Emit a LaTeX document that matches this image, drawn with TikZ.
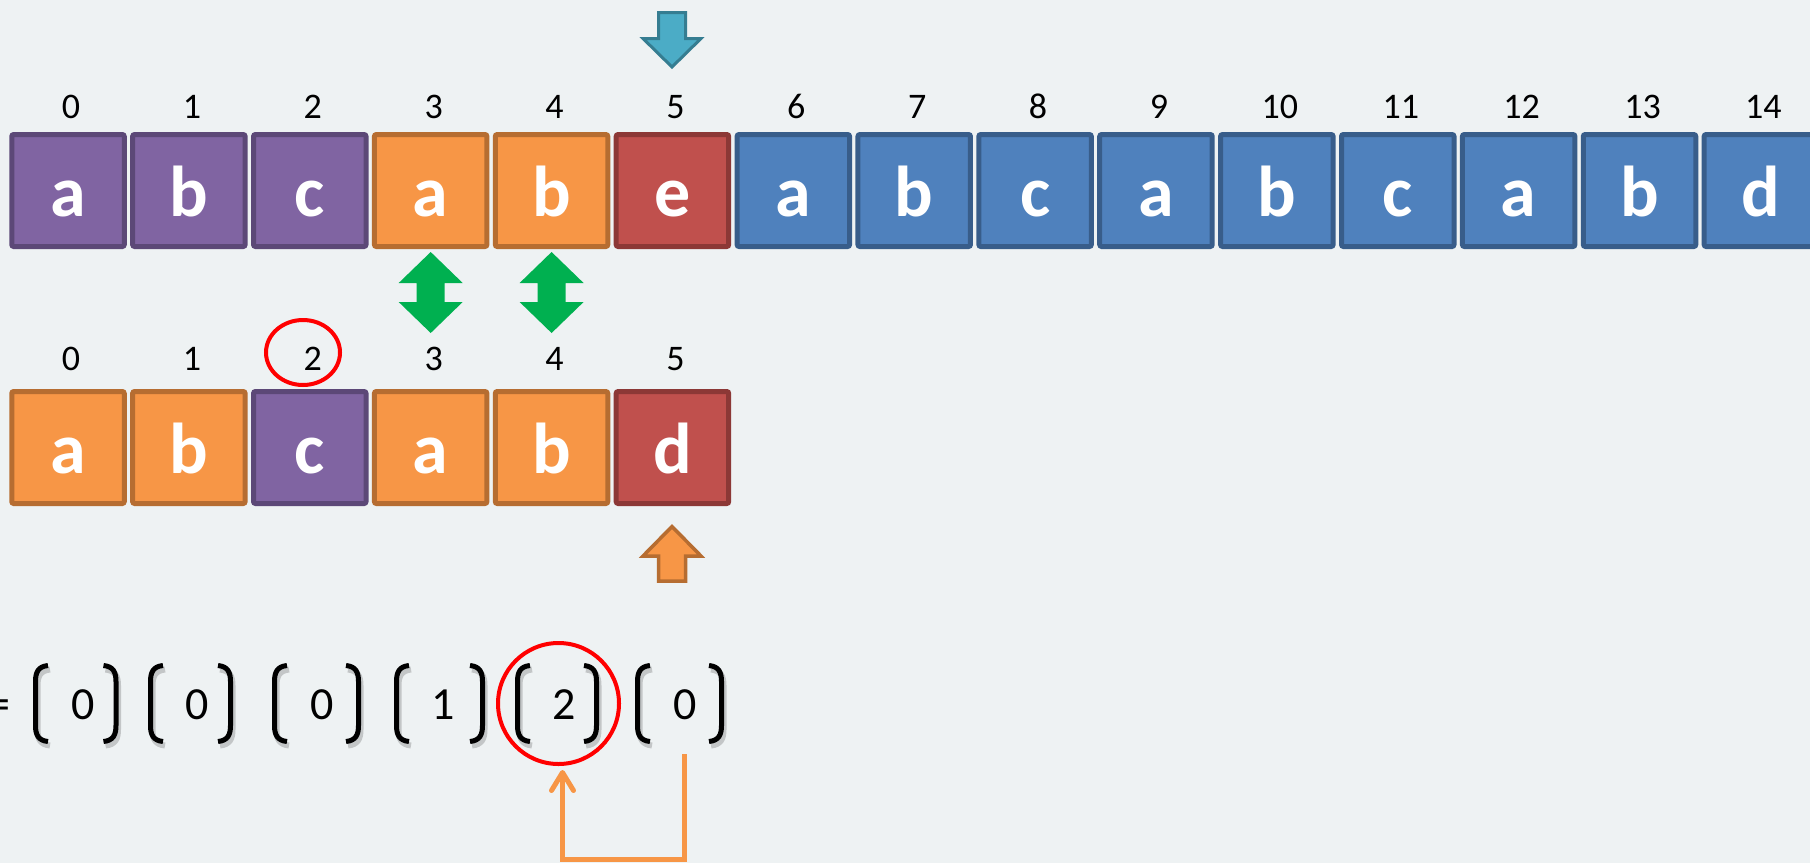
\documentclass[tikz,border=0pt]{standalone}
\usepackage{fontspec}
\setmainfont{Carlito}
\usetikzlibrary{arrows.meta,shapes.geometric}

\definecolor{bgc}{HTML}{EEF2F3}
\definecolor{purpf}{HTML}{8064A2}\definecolor{purpd}{HTML}{5C4877}
\definecolor{oraf}{HTML}{F79646}\definecolor{orad}{HTML}{B66D31}
\definecolor{redf}{HTML}{C0504D}\definecolor{redd}{HTML}{8C3836}
\definecolor{bluf}{HTML}{4F81BD}\definecolor{blud}{HTML}{385D8A}
\definecolor{tealf}{HTML}{4BACC6}\definecolor{teald}{HTML}{357D91}
\definecolor{grn}{HTML}{00B050}
\definecolor{hilite}{HTML}{FF0000}

\tikzset{
  x=0.5pt, y=-0.5pt,
  cell/.style={draw, line width=2.5pt, rounded corners=1pt,
    minimum width=56.25pt, minimum height=56pt, inner sep=0pt,
    text height=25.5pt, text depth=0pt, text=white,
    font=\fontsize{36}{36}\selectfont\bfseries},
  purp/.style={cell, fill=purpf, draw=purpd},
  ora/.style={cell, fill=oraf, draw=orad},
  redc/.style={cell, fill=redf, draw=redd},
  blu/.style={cell, fill=bluf, draw=blud},
  idx/.style={anchor=base, inner sep=0pt, font=\fontsize{18}{18}\selectfont},
  val/.style={anchor=base, inner sep=0pt, font=\fontsize{23}{23}\selectfont},
  ring/.style={draw=hilite, line width=2pt, inner sep=0pt},
  conn/.style={draw=oraf, line width=2.5pt,
    -{Straight Barb[length=9pt,width=11pt,round]}},
  brk/.style={line width=2.5pt, black},
  brkshadow/.style={line width=3pt, black, opacity=0.18},
  lbrk/.pic={
    \draw[brkshadow] (17,-34) .. controls (7,-33) and (4.5,-27) .. (4.5,-18)
       -- (4.5,26) .. controls (4.5,35) and (7,41) .. (17,42);
    \draw[brk] (15,-38) .. controls (5,-37) and (2.5,-31) .. (2.5,-22)
       -- (2.5,22) .. controls (2.5,31) and (5,37) .. (15,38);
  },
  rbrk/.pic={
    \draw[brkshadow] (-13,-34) .. controls (-3,-33) and (-0.5,-27) .. (-0.5,-18)
       -- (-0.5,26) .. controls (-0.5,35) and (-3,41) .. (-13,42);
    \draw[brk] (-15,-38) .. controls (-5,-37) and (-2.5,-31) .. (-2.5,-22)
       -- (-2.5,22) .. controls (-2.5,31) and (-5,37) .. (-15,38);
  }
}

\begin{document}
\begin{tikzpicture}
  % canvas
  \fill[bgc] (0,0) rectangle (1810,863);
  \useasboundingbox (0,0) rectangle (1810,863);

  % text row
  \foreach \ch/\st [count=\n from 0] in
    {a/purp,b/purp,c/purp,a/ora,b/ora,e/redc,a/blu,b/blu,c/blu,a/blu,b/blu,c/blu,a/blu,b/blu,d/blu}{
    \node[\st] (t\n) at ({68+120.886*\n},190.5) {\ch};
    \node[idx] (ti\n) at ({71+120.886*\n},118) {\n};
  }

  % pattern row
  \foreach \ch/\st [count=\n from 0] in {a/ora,b/ora,c/purp,a/ora,b/ora,d/redc}{
    \node[\st] (p\n) at ({68+120.886*\n},447.5) {\ch};
    \node[idx] (pi\n) at ({71+120.886*\n},370) {\n};
  }

  % pointer into the text
  \draw[fill=tealf, draw=teald, line width=1.5pt, line join=miter]
    (658.5,12.5) -- (685.5,12.5) -- (685.5,38.5) -- (701,38.5) -- (672,67)
    -- (643,38.5) -- (658.5,38.5) -- cycle;

  % pointer into the pattern
  \draw[fill=oraf, draw=orad, line width=1.75pt, line join=miter]
    (672,526.5) -- (701,556) -- (685.5,556) -- (685.5,581) -- (658.5,581)
    -- (658.5,556) -- (643,556) -- cycle;

  % matched characters
  \foreach \cx in {430.7,551.6}{
    \fill[grn] (\cx,252) -- (\cx+32,283) -- (\cx+14,283) -- (\cx+14,302)
      -- (\cx+32,302) -- (\cx,333) -- (\cx-32,302) -- (\cx-14,302)
      -- (\cx-14,283) -- (\cx-32,283) -- cycle;
  }

  % highlighted index
  \node[ring, ellipse, minimum width=37pt, minimum height=32.5pt] (ring1) at (303,352.5) {};

  % failure table
  \node[val, anchor=base east] (eq) at (11,719.5) {=};
  \foreach \L/\D/\R/\v [count=\k] in
    {33/83.5/118.5/0, 148/197.5/233/0, 272/322/361/0,
     394/443/485/1, 515/564/599/2, 635/685.5/724/0}{
    \pic at (\L,703.5) {lbrk};
    \pic at (\R,703.5) {rbrk};
    \node[val] (v\k) at (\D,719.5) {\v};
  }

  \node[ring, circle, minimum size=60.5pt] (ring2) at (558.5,703.5) {};

  % fallback link
  \coordinate (c6) at (684,754);
  \coordinate (turn) at (562.5,859);
  \coordinate (tip) at (562.5,770);
  \draw[conn] (c6) |- (turn) -- (tip);
\end{tikzpicture}
\end{document}
